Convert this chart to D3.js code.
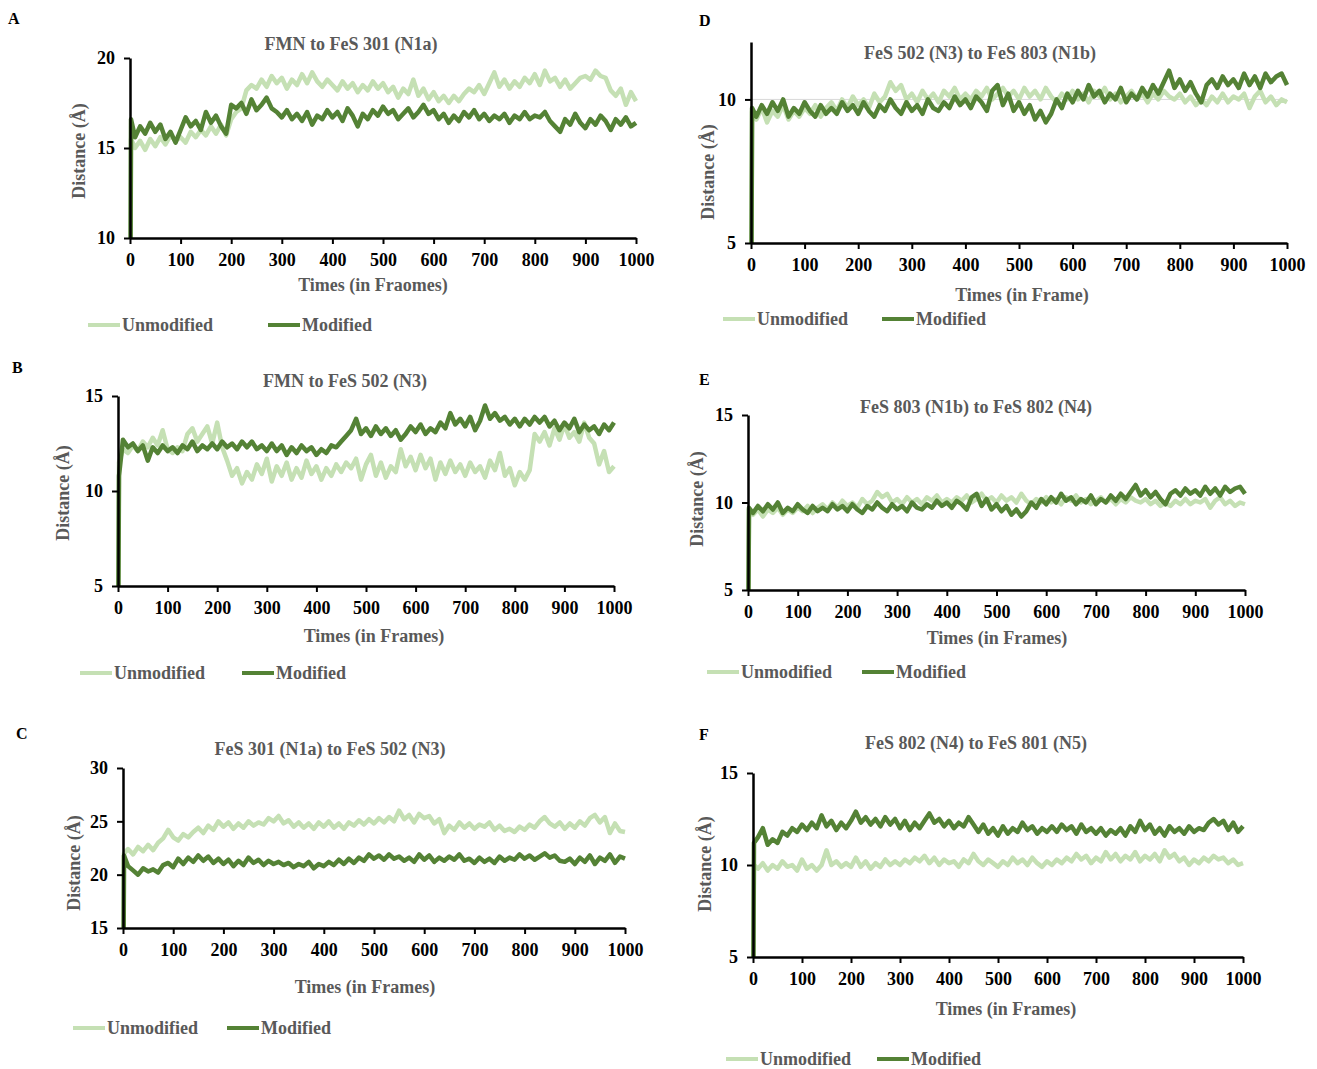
<!DOCTYPE html>
<html>
<head>
<meta charset="utf-8">
<script src="https://cdn.jsdelivr.net/npm/d3@7"></script>
<style>
  body { margin: 0; background: #fff; }
  text { font-family: "Liberation Serif", "Times New Roman", serif; font-weight: bold; }
</style>
</head>
<body>
<svg id="chart" width="1317" height="1069"></svg>
<script>
// sample frames: frame 0, frame 2, then every 10 frames up to 1000
const frames = [0, 2].concat(d3.range(10, 1001, 10));
const xTickValues = [0, 100, 200, 300, 400, 500, 600, 700, 800, 900, 1000];
const seriesNames = ['Unmodified', 'Modified'];

// A: FMN to FeS 301 (N1a)
const aUnmodified = [0, 15.5,
  15.0, 15.4, 14.9, 15.5, 15.1, 15.6, 15.2, 15.7, 15.4, 15.6,
  15.3, 15.9, 15.6, 16.0, 15.7, 16.2, 15.8, 16.3, 15.7, 16.6,
  17.0, 17.2, 18.2, 18.5, 18.3, 18.8, 18.4, 19.0, 18.6, 18.9,
  18.3, 18.8, 18.5, 19.1, 18.6, 19.2, 18.7, 18.4, 18.8, 18.5,
  18.2, 18.7, 18.3, 18.6, 18.1, 18.5, 18.2, 18.7, 18.3, 18.6,
  18.1, 18.4, 17.8, 18.3, 18.0, 18.8, 17.9, 18.3, 17.7, 18.1,
  17.6, 17.9, 17.5, 17.9, 17.6, 18.0, 18.3, 18.1, 18.5, 18.0,
  18.6, 19.2, 18.4, 18.8, 18.3, 18.7, 18.4, 18.9, 18.6, 19.1,
  18.5, 19.3, 18.7, 18.9, 18.4, 18.8, 18.3, 18.6, 18.9, 19.0,
  18.8, 19.3, 19.0, 18.9, 18.2, 17.9, 18.3, 17.4, 18.1, 17.6];
const aModified = [0, 16.6,
  15.6, 16.2, 15.8, 16.4, 15.9, 16.3, 15.5, 15.9, 15.3, 16.0,
  16.7, 16.2, 16.5, 16.0, 17.0, 16.4, 16.8, 16.2, 15.8, 17.4,
  17.2, 17.5, 16.9, 17.7, 17.1, 17.4, 17.8, 17.2, 17.0, 16.7,
  17.1, 16.6, 16.9, 16.5, 17.0, 16.3, 16.8, 16.6, 17.1, 16.7,
  17.0, 16.5, 17.2, 16.8, 16.2, 16.9, 16.6, 17.1, 16.8, 17.3,
  16.9, 17.1, 16.6, 16.9, 17.2, 16.7, 17.0, 17.4, 16.9, 17.1,
  16.6, 16.9, 16.4, 16.8, 16.5, 17.0, 16.7, 17.1, 16.6, 16.9,
  16.5, 16.8, 16.6, 16.9, 16.4, 16.8, 16.6, 17.0, 16.6, 16.8,
  16.7, 17.0, 16.5, 16.2, 15.9, 16.6, 16.3, 16.9, 16.4, 16.1,
  16.6, 16.3, 16.8, 16.5, 16.0, 16.6, 16.3, 16.7, 16.2, 16.4];

// B: FMN to FeS 502 (N3)
const bUnmodified = [0, 11.5,
  12.2, 12.0, 12.4, 12.1, 12.6, 12.3, 12.8, 12.4, 13.2, 12.2,
  12.0, 12.3, 12.1, 13.0, 13.3, 12.6, 13.0, 13.4, 12.5, 13.6,
  12.3, 11.6, 10.8, 11.2, 10.4, 11.0, 10.6, 11.4, 10.9, 11.7,
  10.5, 11.3, 10.8, 11.5, 10.6, 11.2, 10.7, 11.6, 10.9, 11.3,
  10.6, 11.2, 10.8, 11.4, 11.0, 11.5, 11.2, 11.7, 10.6, 11.4,
  11.9, 10.8, 11.5, 10.7, 11.3, 11.0, 12.2, 11.3, 11.8, 11.1,
  11.9, 11.2, 11.7, 10.6, 11.5, 10.9, 11.6, 11.0, 11.4, 10.8,
  11.5, 11.0, 11.3, 10.7, 11.6, 11.1, 12.0, 10.8, 11.2, 10.3,
  11.0, 10.6, 11.1, 13.0, 12.6, 13.1, 12.4, 13.3, 12.7, 13.5,
  12.8, 13.1, 12.6, 13.6, 12.8, 12.5, 11.4, 12.1, 11.0, 11.3];
const bModified = [0, 10.8,
  12.7, 12.3, 12.5, 12.1, 12.4, 11.6, 12.3, 12.0, 12.4, 12.1,
  12.3, 12.0, 12.4, 12.2, 12.6, 12.1, 12.4, 12.2, 12.5, 12.2,
  12.6, 12.3, 12.5, 12.2, 12.6, 12.3, 12.6, 12.2, 12.4, 12.1,
  12.5, 12.1, 12.4, 11.9, 12.3, 12.0, 12.4, 12.1, 12.3, 11.9,
  12.2, 12.0, 12.4, 12.3, 12.6, 12.9, 13.2, 13.8, 13.0, 13.3,
  12.9, 13.4, 13.0, 13.3, 12.9, 13.2, 12.7, 13.0, 13.4, 13.1,
  13.5, 13.0, 13.3, 13.1, 13.6, 13.3, 14.1, 13.5, 13.8, 13.4,
  13.9, 13.2, 13.7, 14.5, 13.8, 14.1, 13.7, 13.9, 13.5, 13.8,
  13.4, 13.8, 13.5, 13.9, 13.6, 13.9, 13.4, 13.7, 13.2, 13.6,
  13.3, 13.8, 13.1, 13.5, 13.2, 13.4, 13.0, 13.5, 13.2, 13.6];

// C: FeS 301 (N1a) to FeS 502 (N3)
const cUnmodified = [0, 22.0,
  22.4, 21.9, 22.6, 22.2, 22.8, 22.3, 23.0, 23.4, 24.2, 23.5,
  23.2, 23.8, 23.5, 24.0, 24.4, 23.9, 24.6, 24.2, 25.0, 24.5,
  24.9, 24.3, 24.8, 24.4, 25.0, 24.6, 24.9, 24.7, 25.3, 25.0,
  25.5, 24.8, 25.1, 24.5, 24.9, 24.4, 24.8, 24.3, 24.9, 24.5,
  25.0, 24.4, 24.8, 24.3, 24.9, 24.6, 25.1, 24.7, 25.2, 24.8,
  25.3, 24.9, 25.4, 25.0, 26.0, 25.2, 25.6, 24.9, 25.7, 25.3,
  25.5, 24.8, 25.2, 23.9, 24.6, 24.2, 24.9, 24.4, 24.8, 24.3,
  24.7, 24.5, 24.9, 24.2, 24.6, 24.1, 24.3, 24.0, 24.5, 24.2,
  24.7, 24.4, 25.0, 25.4, 24.8, 24.5, 24.9, 24.3, 24.8, 24.4,
  25.0, 24.6, 25.3, 25.6, 24.9, 25.4, 23.9, 24.8, 24.1, 24.0];
const cModified = [0, 21.8,
  20.8, 20.4, 20.0, 20.6, 20.3, 20.5, 20.2, 20.9, 21.1, 20.7,
  21.5, 21.0, 21.6, 21.2, 21.8, 21.3, 21.7, 21.1, 21.5, 21.0,
  21.4, 20.8, 21.3, 20.9, 21.6, 21.1, 21.4, 20.9, 21.3, 21.0,
  21.2, 20.9, 21.1, 20.7, 21.0, 20.8, 21.2, 20.6, 21.0, 20.8,
  21.2, 20.9, 21.4, 21.0, 21.5, 21.1, 21.6, 21.3, 21.9, 21.5,
  21.8, 21.4, 21.9, 21.5, 21.7, 21.3, 21.6, 21.2, 21.9, 21.4,
  21.8, 21.2, 21.6, 21.3, 21.7, 21.4, 21.9, 21.3, 21.5, 21.1,
  21.6, 21.2, 21.5, 21.1, 21.7, 21.3, 21.6, 21.4, 21.9, 21.5,
  21.8, 21.4, 21.7, 22.0, 21.6, 21.8, 21.3, 21.2, 21.5, 21.0,
  21.6, 21.2, 21.8, 21.0, 21.6, 21.3, 21.9, 21.1, 21.7, 21.5];

// D: FeS 502 (N3) to FeS 803 (N1b)
const dUnmodified = [0, 9.6,
  9.3, 9.7, 9.2, 9.6, 9.4, 9.8, 9.3, 9.6, 9.4, 9.7,
  9.5, 9.8, 9.4, 9.7, 9.9, 9.6, 10.0, 9.7, 10.1, 9.8,
  10.0, 9.7, 10.2, 9.9, 10.1, 10.6, 10.3, 10.5, 10.0, 10.2,
  9.9, 10.3, 10.0, 10.2, 9.9, 10.3, 10.1, 10.4, 10.0, 10.2,
  10.0, 10.3, 10.1, 10.4, 10.0, 10.2, 10.4, 10.1, 10.3, 10.0,
  10.4, 10.1, 10.3, 10.0, 10.4, 10.1, 9.9, 10.2, 10.0, 10.3,
  10.0, 10.2, 9.9, 10.3, 10.1, 10.4, 10.0, 10.2, 9.9, 10.1,
  10.3, 10.0, 10.2, 9.9, 10.2, 10.0, 10.3, 10.1, 10.0, 10.2,
  9.9, 10.1, 9.8, 10.0, 9.8, 10.1, 9.9, 10.2, 9.9, 10.1,
  10.0, 10.2, 9.7, 10.1, 10.3, 9.9, 10.1, 9.8, 10.0, 9.9];
const dModified = [0, 9.7,
  9.4, 9.8, 9.5, 9.9, 9.6, 10.0, 9.4, 9.7, 9.5, 9.9,
  9.6, 9.4, 9.8, 9.5, 9.7, 9.5, 9.9, 9.6, 9.8, 9.5,
  9.9, 9.6, 9.4, 9.8, 9.6, 10.0, 9.7, 9.5, 9.9, 9.6,
  9.8, 9.5, 10.0, 9.7, 9.6, 9.9, 9.7, 10.1, 9.8, 10.0,
  9.7, 10.1, 9.9, 9.6, 10.3, 10.5, 9.8, 10.2, 9.6, 9.9,
  9.5, 9.8, 9.3, 9.6, 9.2, 9.5, 10.0, 9.7, 10.2, 9.9,
  10.3, 10.0, 10.5, 10.1, 10.3, 9.9, 10.2, 10.0, 10.4, 9.9,
  10.2, 10.0, 10.4, 10.1, 10.5, 10.2, 10.6, 11.0, 10.4, 10.7,
  10.3, 10.6, 10.2, 9.9, 10.5, 10.7, 10.4, 10.8, 10.5, 10.7,
  10.4, 10.9, 10.5, 10.8, 10.4, 10.9, 10.6, 10.8, 10.9, 10.5];

// E: FeS 803 (N1b) to FeS 802 (N4)
const eUnmodified = [0, 9.6,
  9.3, 9.6, 9.2, 9.6, 9.4, 9.7, 9.3, 9.6, 9.4, 9.7,
  9.5, 9.8, 9.4, 9.7, 9.9, 9.6, 10.0, 9.7, 10.1, 9.8,
  10.0, 9.7, 10.2, 9.9, 10.1, 10.6, 10.3, 10.5, 10.0, 10.2,
  9.9, 10.3, 10.0, 10.2, 9.9, 10.3, 10.1, 10.4, 10.0, 10.2,
  10.0, 10.3, 10.1, 10.4, 10.0, 10.2, 10.5, 10.1, 10.3, 10.0,
  10.4, 10.1, 10.3, 10.0, 10.5, 10.1, 9.9, 10.2, 10.0, 10.3,
  10.0, 10.2, 9.9, 10.3, 10.1, 10.4, 10.0, 10.2, 9.9, 10.1,
  10.3, 10.0, 10.2, 9.9, 10.2, 10.0, 10.3, 10.1, 10.0, 10.2,
  9.9, 10.1, 9.8, 10.0, 9.8, 10.1, 9.9, 10.2, 9.9, 10.1,
  10.0, 10.2, 9.7, 10.1, 10.3, 9.9, 10.1, 9.8, 10.0, 9.9];
const eModified = [0, 9.7,
  9.4, 9.8, 9.5, 9.9, 9.6, 10.0, 9.4, 9.7, 9.5, 9.9,
  9.6, 9.4, 9.8, 9.5, 9.7, 9.5, 9.9, 9.6, 9.8, 9.5,
  9.9, 9.6, 9.4, 9.8, 9.6, 10.0, 9.7, 9.5, 9.9, 9.6,
  9.8, 9.5, 10.0, 9.7, 9.6, 9.9, 9.7, 10.1, 9.8, 10.0,
  9.7, 10.1, 9.9, 9.6, 10.3, 10.5, 9.8, 10.2, 9.6, 9.9,
  9.5, 9.8, 9.3, 9.6, 9.2, 9.5, 10.0, 9.7, 10.2, 9.9,
  10.3, 10.0, 10.5, 10.1, 10.3, 9.9, 10.2, 10.0, 10.4, 9.9,
  10.2, 10.0, 10.4, 10.1, 10.5, 10.2, 10.6, 11.0, 10.4, 10.7,
  10.3, 10.6, 10.2, 9.9, 10.5, 10.7, 10.4, 10.8, 10.5, 10.7,
  10.4, 10.9, 10.5, 10.8, 10.4, 10.9, 10.6, 10.8, 10.9, 10.5];

// F: FeS 802 (N4) to FeS 801 (N5)
const fUnmodified = [0, 10.0,
  9.8, 10.1, 9.7, 10.0, 9.8, 10.2, 9.9, 10.0, 9.7, 10.3,
  9.8, 10.0, 9.7, 10.0, 10.8, 10.0, 10.2, 9.9, 10.1, 9.9,
  10.4, 9.9, 10.2, 9.8, 10.1, 9.9, 10.3, 10.0, 10.2, 10.0,
  10.3, 10.1, 10.4, 10.2, 10.5, 10.1, 10.4, 10.0, 10.3, 10.1,
  10.2, 9.9, 10.3, 10.1, 10.6, 10.2, 10.0, 10.3, 10.1, 9.9,
  10.2, 10.0, 10.4, 10.1, 10.3, 10.0, 10.4, 10.1, 9.9, 10.2,
  10.0, 10.3, 10.1, 10.4, 10.2, 10.6, 10.3, 10.5, 10.1, 10.4,
  10.2, 10.7, 10.3, 10.6, 10.2, 10.5, 10.3, 10.7, 10.2, 10.5,
  10.3, 10.6, 10.2, 10.8, 10.4, 10.6, 10.2, 10.4, 10.0, 10.3,
  10.1, 10.4, 10.2, 10.5, 10.3, 10.4, 10.1, 10.3, 10.0, 10.1];
const fModified = [0, 11.2,
  11.5, 12.0, 11.1, 11.4, 11.2, 11.8, 11.6, 12.0, 11.8, 12.2,
  11.9, 12.3, 12.0, 12.7, 12.1, 12.4, 11.9, 12.3, 12.0, 12.4,
  12.9, 12.3, 12.6, 12.2, 12.5, 12.1, 12.6, 12.2, 12.5, 12.0,
  12.4, 11.9, 12.3, 12.0, 12.4, 12.8, 12.3, 12.5, 12.1, 12.4,
  12.0, 12.3, 12.1, 12.6, 12.2, 11.8, 12.2, 11.7, 12.0, 11.6,
  12.1, 11.7, 12.0, 11.8, 12.3, 11.9, 12.1, 11.7, 12.0, 11.8,
  12.1, 11.8, 12.2, 11.9, 12.1, 11.7, 12.2, 11.8, 12.0, 11.7,
  12.0, 11.6, 11.9, 11.7, 12.0, 11.6, 12.1, 11.8, 12.4, 11.9,
  12.2, 11.7, 12.0, 11.6, 12.1, 11.8, 12.0, 11.7, 12.1, 11.8,
  12.0, 11.9, 12.3, 12.5, 12.2, 12.4, 11.9, 12.3, 11.8, 12.1];

const colors = { Unmodified: '#c5e0b4', Modified: '#548235' };
const textGrey = '#595959';

// panel layout (pixel positions on the page)
const panels = [
  { id: 'A', title: 'FMN to FeS 301 (N1a)', xTitle: 'Times (in Fraomes)',
    yDomain: [10, 20], yTicks: [10, 15, 20], data: [aUnmodified, aModified],
    x0: 130, x1: 636, yT: 58, yB: 238, letter: [8, 24], titleX: 351, titleY: 50,
    xTitleX: 373, xTitleY: 291, yTitle: [79, 151], legendY: 325, legendX: [88, 268] },
  { id: 'B', title: 'FMN to FeS 502 (N3)', xTitle: 'Times (in Frames)',
    yDomain: [5, 15], yTicks: [5, 10, 15], data: [bUnmodified, bModified],
    x0: 118, x1: 614, yT: 396, yB: 586, letter: [12, 373], titleX: 345, titleY: 387,
    xTitleX: 374, xTitleY: 642, yTitle: [63, 493], legendY: 673, legendX: [80, 242] },
  { id: 'C', title: 'FeS 301 (N1a) to FeS 502 (N3)', xTitle: 'Times (in Frames)',
    yDomain: [15, 30], yTicks: [15, 20, 25, 30], data: [cUnmodified, cModified],
    x0: 123, x1: 625, yT: 768, yB: 928, letter: [16, 739], titleX: 330, titleY: 755,
    xTitleX: 365, xTitleY: 993, yTitle: [74, 863], legendY: 1028, legendX: [73, 227] },
  { id: 'D', title: 'FeS 502 (N3) to FeS 803 (N1b)', xTitle: 'Times (in Frame)',
    yDomain: [5, 12], yTicks: [5, 10], grid: [10], data: [dUnmodified, dModified],
    x0: 751, x1: 1287, yT: 42, yB: 243, letter: [699, 26], titleX: 980, titleY: 59,
    xTitleX: 1022, xTitleY: 301, yTitle: [708, 172], legendY: 319, legendX: [723, 882] },
  { id: 'E', title: 'FeS 803 (N1b) to FeS 802 (N4)', xTitle: 'Times (in Frames)',
    yDomain: [5, 15], yTicks: [5, 10, 15], data: [eUnmodified, eModified],
    x0: 748, x1: 1245, yT: 415, yB: 590, letter: [699, 385], titleX: 976, titleY: 413,
    xTitleX: 997, xTitleY: 644, yTitle: [697, 499], legendY: 672, legendX: [707, 862] },
  { id: 'F', title: 'FeS 802 (N4) to FeS 801 (N5)', xTitle: 'Times (in Frames)',
    yDomain: [5, 15], yTicks: [5, 10, 15], data: [fUnmodified, fModified],
    x0: 753, x1: 1243, yT: 773, yB: 957, letter: [699, 740], titleX: 976, titleY: 749,
    xTitleX: 1006, xTitleY: 1015, yTitle: [705, 864], legendY: 1059, legendX: [726, 877] }
];

const svg = d3.select('#chart');
const intFormat = d3.format('d');

function styleAxis(axisG) {
  axisG.select('.domain').attr('stroke', '#000').attr('stroke-width', 2.5);
  axisG.selectAll('.tick line').attr('stroke', '#000').attr('stroke-width', 2);
  axisG.selectAll('.tick text')
    .attr('font-size', 18).attr('fill', '#000')
    .attr('font-family', '"Liberation Serif", serif').attr('font-weight', 'bold');
}

function drawPanel(p) {
  const g = svg.append('g');
  const x = d3.scaleLinear().domain([0, 1000]).range([p.x0, p.x1]);
  const y = d3.scaleLinear().domain(p.yDomain).range([p.yB, p.yT]);

  // panel letter
  g.append('text')
    .attr('x', p.letter[0]).attr('y', p.letter[1])
    .attr('font-size', 16).attr('fill', '#000')
    .text(p.id);

  // chart title
  g.append('text')
    .attr('x', p.titleX).attr('y', p.titleY)
    .attr('text-anchor', 'middle')
    .attr('font-size', 18).attr('fill', textGrey)
    .text(p.title);

  // light gridline (only panel D shows one)
  if (p.grid) {
    g.selectAll('.grid').data(p.grid).enter().append('line')
      .attr('x1', p.x0).attr('x2', p.x1)
      .attr('y1', d => y(d)).attr('y2', d => y(d))
      .attr('stroke', '#d9d9d9').attr('stroke-width', 1);
  }

  // clip so the start-up value at frame 0 stops at the x axis
  const clipId = 'clip' + p.id;
  svg.append('clipPath').attr('id', clipId)
    .append('rect')
    .attr('x', p.x0 - 3).attr('y', p.yT - 4)
    .attr('width', p.x1 - p.x0 + 6).attr('height', p.yB - p.yT + 4);

  const line = d3.line()
    .x((d, i) => x(frames[i]))
    .y(d => y(d));

  const lines = g.append('g').attr('clip-path', `url(#${clipId})`);
  seriesNames.forEach((name, k) => {
    lines.append('path')
      .datum(p.data[k])
      .attr('d', line)
      .attr('fill', 'none')
      .attr('stroke', colors[name])
      .attr('stroke-width', 4.5)
      .attr('stroke-linejoin', 'round');
  });

  // x axis
  const xAxis = g.append('g')
    .attr('transform', `translate(0,${p.yB})`)
    .call(d3.axisBottom(x).tickValues(xTickValues).tickFormat(intFormat)
      .tickSize(6).tickSizeOuter(0).tickPadding(9));
  styleAxis(xAxis);

  // y axis
  const yAxis = g.append('g')
    .attr('transform', `translate(${p.x0},0)`)
    .call(d3.axisLeft(y).tickValues(p.yTicks).tickFormat(intFormat)
      .tickSize(6).tickSizeOuter(0).tickPadding(9));
  styleAxis(yAxis);

  // axis titles
  g.append('text')
    .attr('x', p.xTitleX).attr('y', p.xTitleY)
    .attr('text-anchor', 'middle')
    .attr('font-size', 18).attr('fill', textGrey)
    .text(p.xTitle);

  g.append('text')
    .attr('transform', `translate(${p.yTitle[0] + 6},${p.yTitle[1]}) rotate(-90)`)
    .attr('text-anchor', 'middle')
    .attr('font-size', 18).attr('fill', textGrey)
    .text('Distance (Å)');

  // legend
  seriesNames.forEach((name, k) => {
    const lx = p.legendX[k];
    g.append('line')
      .attr('x1', lx).attr('x2', lx + 32)
      .attr('y1', p.legendY).attr('y2', p.legendY)
      .attr('stroke', colors[name]).attr('stroke-width', 4);
    g.append('text')
      .attr('x', lx + 34).attr('y', p.legendY + 6)
      .attr('font-size', 18).attr('fill', textGrey)
      .text(name);
  });
}

panels.forEach(drawPanel);
</script>
</body>
</html>
